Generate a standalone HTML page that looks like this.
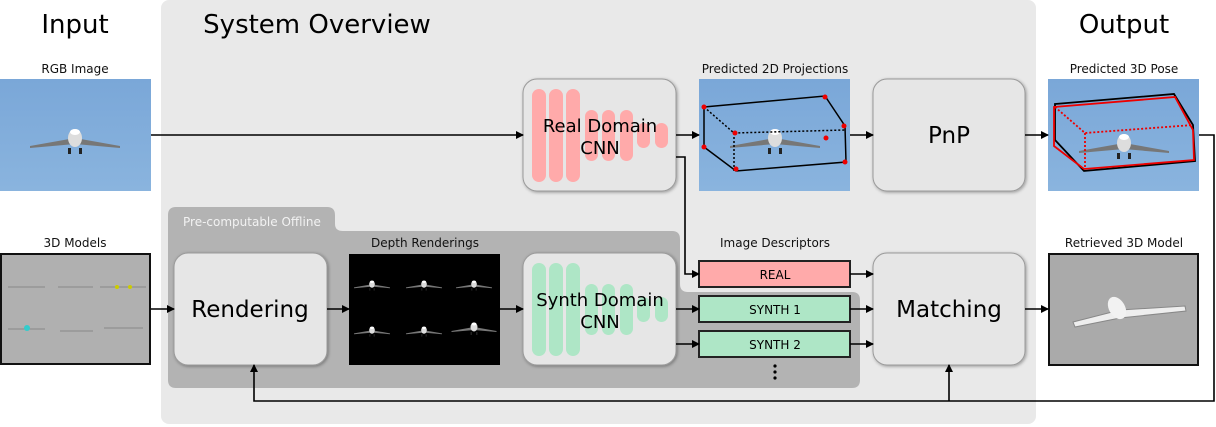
<!DOCTYPE html>
<html><head><meta charset="utf-8"><style>
html,body{margin:0;padding:0;background:#fff;}
svg{display:block;font-family:"DejaVu Sans","Liberation Sans",sans-serif;}
</style></head><body>
<svg width="1216" height="427" viewBox="0 0 1216 427" xmlns="http://www.w3.org/2000/svg">
<defs>
<marker id="a" markerWidth="8" markerHeight="8" refX="7" refY="4" orient="auto" markerUnits="userSpaceOnUse"><path d="M0,0 L8,4 L0,8 z" fill="#000"/></marker>
<filter id="sh" x="-10%" y="-10%" width="125%" height="125%"><feDropShadow dx="1" dy="1" stdDeviation="1.5" flood-color="#000" flood-opacity="0.35"/></filter>
<linearGradient id="sky" x1="0" y1="0" x2="0" y2="1"><stop offset="0" stop-color="#7aa7d8"/><stop offset="1" stop-color="#8ab4de"/></linearGradient>
<g id="plane"><path d="M-45,6 L0,-2 L45,6 L45,8 L0,4 L-45,8z" fill="#777"/><ellipse cx="0" cy="-2" rx="7" ry="9" fill="#ddd"/><rect x="-7" y="8" width="3" height="6" fill="#222"/><rect x="4" y="8" width="3" height="6" fill="#222"/><ellipse cx="0" cy="-8" rx="5" ry="3" fill="#fff"/></g>
</defs>

<rect x="161" y="0" width="875" height="424" rx="8" fill="#e9e9e9"/>
<path d="M176,207 L327,207 Q335,207 335,215 L335,224 Q335,231 343,231 L672,231 Q680,231 680,239 L680,284 Q680,292 688,292 L852,292 Q860,292 860,300 L860,380 Q860,388 852,388 L176,388 Q168,388 168,380 L168,215 Q168,207 176,207z" fill="#b3b3b3"/>
<text x="183" y="226" font-size="12" fill="#f2f2f2">Pre-computable Offline</text>

<text x="75" y="33" font-size="26" text-anchor="middle">Input</text>
<text x="317" y="33" font-size="26" text-anchor="middle">System Overview</text>
<text x="1124" y="33" font-size="26" text-anchor="middle">Output</text>

<g font-size="12" text-anchor="middle" fill="#111">
<text x="75" y="73">RGB Image</text>
<text x="75" y="247">3D Models</text>
<text x="425" y="247">Depth Renderings</text>
<text x="775" y="73">Predicted 2D Projections</text>
<text x="775" y="247">Image Descriptors</text>
<text x="1124" y="73">Predicted 3D Pose</text>
<text x="1124" y="247">Retrieved 3D Model</text>
</g>

<rect x="0" y="79" width="151" height="112" fill="url(#sky)"/>
<use href="#plane" transform="translate(75,140)"/>
<rect x="1" y="254" width="149" height="110" fill="#b0b0b0" stroke="#111" stroke-width="2"/>
<g fill="#ddd" stroke="#888" stroke-width="1">
<path d="M8,287 L45,287 M58,287 L93,287 M100,287 L146,287 M8,329 L45,329 M60,331 L93,331 M104,328 L143,328"/>
</g>
<circle cx="117" cy="287" r="2" fill="#cc0"/><circle cx="130" cy="287" r="2" fill="#cc0"/><circle cx="27" cy="328" r="3" fill="#3cc"/>
<rect x="349" y="254" width="151" height="111" fill="#000"/>
<g fill="#ddd">
<use href="#plane" transform="translate(372,285) scale(0.4)"/>
<use href="#plane" transform="translate(424,285) scale(0.4)"/>
<use href="#plane" transform="translate(474,285) scale(0.4)"/>
<use href="#plane" transform="translate(372,331) scale(0.4)"/>
<use href="#plane" transform="translate(424,331) scale(0.4)"/>
<use href="#plane" transform="translate(474,328) scale(0.5)"/>
</g>

<rect x="699" y="79" width="151" height="112" fill="url(#sky)"/>
<use href="#plane" transform="translate(775,140)"/>
<g stroke="#000" stroke-width="1.5" fill="none">
<path d="M704,107 L825,96 L845,126 L846,162 L736,171 L704,147z M704,107 L704,147 M825,96 L845,126"/>
<path d="M704,107 L734,133 L845,130 M734,133 L734,171" stroke-dasharray="2,2"/>
</g>
<g fill="#e00"><circle cx="704" cy="107" r="2.5"/><circle cx="825" cy="97" r="2.5"/><circle cx="844" cy="126" r="2.5"/><circle cx="845" cy="162" r="2.5"/><circle cx="736" cy="169" r="2.5"/><circle cx="704" cy="147" r="2.5"/><circle cx="735" cy="133" r="2.5"/><circle cx="826" cy="138" r="2.5"/></g>

<rect x="1048" y="79" width="151" height="112" fill="url(#sky)"/>
<use href="#plane" transform="translate(1124,145)"/>
<g fill="none" stroke-width="1.8">
<path d="M1055,104 L1174,94 L1193,125 L1195,161 L1084,171 L1055,140z" stroke="#000"/>
<path d="M1054,107 L1175,97 L1193,130 L1194,160 L1084,169 L1054,146z M1054,107 L1054,146" stroke="#e00"/>
<path d="M1055,107 L1085,133 L1193,125 M1085,133 L1085,169" stroke="#e00" stroke-dasharray="2,2"/>
</g>
<rect x="1049" y="254" width="149" height="111" fill="#aaa" stroke="#111" stroke-width="2"/>
<path d="M1073,322 L1120,310 L1185,306 L1186,311 L1120,318 L1075,327z" fill="#eee" stroke="#888"/>
<ellipse cx="1117" cy="308" rx="8" ry="12" fill="#f2f2f2" transform="rotate(-30 1117 308)"/>

<g fill="#e6e6e6" stroke="#9a9a9a" stroke-width="1" filter="url(#sh)">
<rect x="523" y="79" width="153" height="112" rx="14"/>
<rect x="523" y="253" width="153" height="112" rx="14"/>
<rect x="873" y="79" width="152" height="112" rx="14"/>
<rect x="873" y="253" width="152" height="112" rx="14"/>
<rect x="174" y="253" width="153" height="112" rx="14"/>
</g>
<g fill="#ffaaaa">
<rect x="532" y="89" width="14" height="93" rx="7"/><rect x="549" y="89" width="14" height="93" rx="7"/><rect x="566" y="89" width="14" height="93" rx="7"/>
<rect x="585" y="110" width="13" height="51" rx="6.5"/><rect x="602" y="110" width="13" height="51" rx="6.5"/><rect x="620" y="110" width="13" height="51" rx="6.5"/>
<rect x="637" y="123" width="13" height="25" rx="6.5"/><rect x="655" y="123" width="13" height="25" rx="6.5"/>
</g>
<g fill="#aee6c6">
<rect x="532" y="263" width="14" height="93" rx="7"/><rect x="549" y="263" width="14" height="93" rx="7"/><rect x="566" y="263" width="14" height="93" rx="7"/>
<rect x="585" y="284" width="13" height="51" rx="6.5"/><rect x="602" y="284" width="13" height="51" rx="6.5"/><rect x="620" y="284" width="13" height="51" rx="6.5"/>
<rect x="637" y="297" width="13" height="25" rx="6.5"/><rect x="655" y="297" width="13" height="25" rx="6.5"/>
</g>
<g text-anchor="middle" fill="#000">
<text x="600" y="132" font-size="18">Real Domain</text><text x="600" y="154" font-size="18">CNN</text>
<text x="600" y="306" font-size="18">Synth Domain</text><text x="600" y="328" font-size="18">CNN</text>
<text x="949" y="143" font-size="23">PnP</text>
<text x="949" y="317" font-size="23">Matching</text>
<text x="250" y="317" font-size="23">Rendering</text>
</g>

<rect x="699" y="261" width="151" height="26" fill="#ffaaaa" stroke="#222" stroke-width="2"/>
<rect x="699" y="296" width="151" height="26" fill="#aee6c6" stroke="#222" stroke-width="2"/>
<rect x="699" y="331" width="151" height="26" fill="#aee6c6" stroke="#222" stroke-width="2"/>
<g font-size="12" text-anchor="middle"><text x="775" y="279">REAL</text><text x="775" y="314">SYNTH 1</text><text x="775" y="349">SYNTH 2</text></g>
<g fill="#000"><circle cx="775" cy="366" r="1.6"/><circle cx="775" cy="372" r="1.6"/><circle cx="775" cy="378" r="1.6"/></g>

<g stroke="#000" stroke-width="1.6" fill="none" marker-end="url(#a)">
<path d="M151,135 L523,135"/>
<path d="M676,135 L699,135"/>
<path d="M850,135 L873,135"/>
<path d="M1025,135 L1048,135"/>
<path d="M676,157 L685,157 L685,274 L699,274"/>
<path d="M850,274 L873,274"/>
<path d="M850,309 L873,309"/>
<path d="M850,344 L873,344"/>
<path d="M676,309 L699,309"/>
<path d="M676,344 L699,344"/>
<path d="M1025,309 L1048,309"/>
<path d="M151,309 L174,309"/>
<path d="M327,309 L349,309"/>
<path d="M500,309 L523,309"/>
<path d="M1199,135 L1214,135 L1214,401 L254,401 L254,365"/>
<path d="M949,401 L949,365"/>
</g>
</svg>
</body></html>
